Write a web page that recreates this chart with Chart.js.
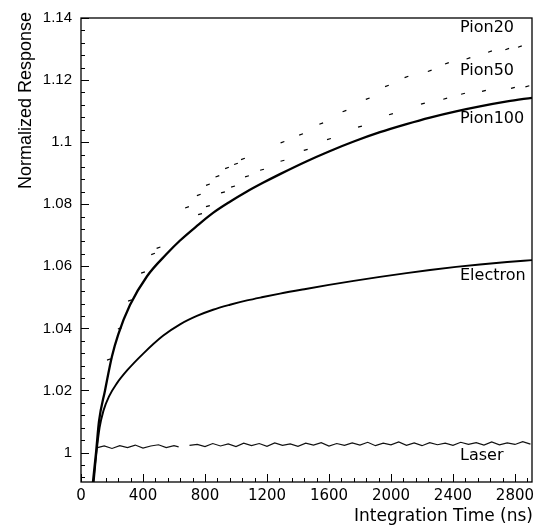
<!DOCTYPE html>
<html>
<head>
<meta charset="utf-8">
<script src="https://cdn.jsdelivr.net/npm/chart.js@4/dist/chart.umd.min.js"></script>
<style>
  html, body { margin: 0; padding: 0; background: #fff; }
  #wrap { width: 542px; height: 527px; }
</style>
</head>
<body>
<div id="wrap"><canvas id="responseChart" width="542" height="527"></canvas></div>
<script>
// axis ticks
const xTicks = [0, 400, 800, 1200, 1600, 2000, 2400, 2800];
const yTicks = [1, 1.02, 1.04, 1.06, 1.08, 1.1, 1.12, 1.14];
const yTickLabels = ['1', '1.02', '1.04', '1.06', '1.08', '1.1', '1.12', '1.14'];

// Pion100 (solid)
const pion100T = [77, 97, 116, 155, 200, 240, 316, 426, 555, 639, 748, 852, 961, 1071, 1174, 1284, 1450, 1600, 1760, 1929, 2100, 2252, 2420, 2574, 2750, 2910];
const pion100V = [0.9905, 1.000, 1.010, 1.020, 1.031, 1.038, 1.0475, 1.0568, 1.0641, 1.0683, 1.073, 1.0772, 1.0808, 1.0841, 1.0869, 1.0897, 1.0937, 1.0970, 1.1002, 1.1032, 1.1058, 1.1079, 1.1099, 1.1115, 1.1131, 1.1143];

// Electron (solid)
const electronT = [82, 100, 120, 145, 180, 230, 300, 400, 529, 639, 748, 852, 961, 1071, 1174, 1284, 1450, 1600, 1760, 1929, 2100, 2252, 2420, 2574, 2750, 2910];
const electronV = [0.9905, 1.000, 1.008, 1.0135, 1.018, 1.0222, 1.0266, 1.0318, 1.0376, 1.0413, 1.044, 1.046, 1.0476, 1.0490, 1.0501, 1.0512, 1.0527, 1.0540, 1.0553, 1.0566, 1.0578, 1.0588, 1.0598, 1.0606, 1.0614, 1.062];

// Pion20 (scattered dashes)
const pion20T = [180, 250, 316, 400, 465, 500, 684, 760, 819, 880, 942, 1000, 1045, 1300, 1420, 1550, 1700, 1850, 1974, 2100, 2250, 2361, 2500, 2639, 2750, 2832];
const pion20V = [1.030, 1.040, 1.049, 1.058, 1.064, 1.066, 1.079, 1.083, 1.0863, 1.089, 1.0917, 1.093, 1.0946, 1.100, 1.1025, 1.106, 1.110, 1.114, 1.1181, 1.121, 1.123, 1.1254, 1.127, 1.1292, 1.130, 1.1308];

// Pion50 (scattered dashes)
const pion50T = [768, 819, 916, 981, 1071, 1168, 1300, 1450, 1600, 1800, 2000, 2206, 2350, 2465, 2600, 2787, 2880];
const pion50V = [1.0768, 1.0794, 1.0838, 1.0857, 1.089, 1.0911, 1.094, 1.0975, 1.101, 1.105, 1.109, 1.1124, 1.114, 1.1156, 1.1165, 1.1175, 1.118];

// Laser (noisy, short gap near 650-700 ns)
const laserT = [100, 150, 200, 250, 300, 350, 400, 450, 500, 550, 600, 630, 665, 700,
  750, 800, 850, 900, 950, 1000, 1050, 1100, 1150, 1200, 1250, 1300, 1350, 1400, 1450, 1500, 1550, 1600, 1650, 1700,
  1750, 1800, 1850, 1900, 1950, 2000, 2050, 2100, 2150, 2200, 2250, 2300, 2350, 2400, 2450, 2500, 2550, 2600, 2650, 2700,
  2750, 2800, 2850, 2900];
const laserV = [1.0015, 1.0021, 1.0013, 1.0022, 1.0016, 1.0024, 1.0014, 1.0021, 1.0025, 1.0016, 1.0022, 1.0018, null, 1.0023,
  1.0026, 1.0019, 1.0029, 1.0021, 1.0028, 1.0019, 1.0030, 1.0022, 1.0029, 1.0020,
  1.0031, 1.0023, 1.0028, 1.0020, 1.0030, 1.0024, 1.0032, 1.0021, 1.0029, 1.0023,
  1.0031, 1.0024, 1.0033, 1.0022, 1.0030, 1.0025, 1.0034, 1.0023, 1.0031, 1.0022,
  1.0032, 1.0025, 1.0030, 1.0023, 1.0033, 1.0026, 1.0032, 1.0024, 1.0034, 1.0025,
  1.0031, 1.0026, 1.0035, 1.0027];

const seriesNames = ['Pion20', 'Pion50', 'Pion100', 'Electron', 'Laser'];

const zip = (t, v) => t.map((x, i) => ({ x, y: v[i] }));

// frame, inward ticks, curve labels and axis titles
const framePlugin = {
  id: 'frame',
  beforeDraw(chart) {
    const c = chart.ctx;
    c.save();
    c.fillStyle = '#fff';
    c.fillRect(0, 0, chart.width, chart.height);
    c.restore();
  },
  afterDraw(chart) {
    const c = chart.ctx;
    const a = chart.chartArea;
    const xs = chart.scales.x, ys = chart.scales.y;
    c.save();
    c.strokeStyle = '#000';
    c.lineWidth = 1.3;
    c.strokeRect(a.left, a.top, a.right - a.left, a.bottom - a.top);

    c.lineWidth = 1;
    c.beginPath();
    for (let t = 0; t <= xs.max; t += 80) {
      const px = Math.round(xs.getPixelForValue(t)) + 0.5;
      const len = t % 400 === 0 ? 8 : 4;
      c.moveTo(px, a.bottom);
      c.lineTo(px, a.bottom - len);
    }
    for (let k = 0; k <= 37; k++) {
      const v = 0.992 + k * 0.004;
      if (v > ys.max + 1e-9) break;
      const py = Math.round(ys.getPixelForValue(v)) + 0.5;
      const major = Math.abs((v - 1) / 0.02 - Math.round((v - 1) / 0.02)) < 1e-6;
      c.moveTo(a.left, py);
      c.lineTo(a.left + (major ? 8 : 4), py);
    }
    c.stroke();

    // curve labels
    c.fillStyle = '#000';
    c.font = '16px "DejaVu Sans"';
    c.textAlign = 'left';
    c.textBaseline = 'alphabetic';
    const labelY = [32, 75, 123, 280, 460];
    seriesNames.forEach((n, i) => c.fillText(n, 460, labelY[i]));

    // x title
    c.font = '17px "DejaVu Sans"';
    c.textAlign = 'right';
    c.fillText('Integration Time (ns)', 533, 521);

    // y title
    c.font = '18px "Liberation Sans"';
    c.translate(31, 12);
    c.rotate(-Math.PI / 2);
    c.textAlign = 'right';
    c.fillText('Normalized Response', 0, 0);
    c.restore();
  }
};

new Chart(document.getElementById('responseChart'), {
  type: 'scatter',
  data: {
    datasets: [
      {
        label: 'Pion20',
        data: zip(pion20T, pion20V),
        showLine: false,
        pointStyle: 'line',
        pointRadius: 2,
        rotation: -20,
        borderColor: '#000',
        borderWidth: 1.2
      },
      {
        label: 'Pion50',
        data: zip(pion50T, pion50V),
        showLine: false,
        pointStyle: 'line',
        pointRadius: 2,
        rotation: -15,
        borderColor: '#000',
        borderWidth: 1.2
      },
      {
        label: 'Pion100',
        data: zip(pion100T, pion100V),
        showLine: true,
        pointRadius: 0,
        borderColor: '#000',
        borderWidth: 2.3,
        cubicInterpolationMode: 'monotone'
      },
      {
        label: 'Electron',
        data: zip(electronT, electronV),
        showLine: true,
        pointRadius: 0,
        borderColor: '#000',
        borderWidth: 1.9,
        cubicInterpolationMode: 'monotone'
      },
      {
        label: 'Laser',
        data: zip(laserT, laserV),
        showLine: true,
        spanGaps: false,
        pointRadius: 0,
        borderColor: '#111',
        borderWidth: 1.2
      }
    ]
  },
  options: {
    responsive: false,
    animation: false,
    layout: { padding: { left: 0, top: 11, right: 10, bottom: 0 } },
    plugins: {
      legend: { display: false },
      tooltip: { enabled: false }
    },
    scales: {
      x: {
        type: 'linear',
        min: 0,
        max: 2910,
        afterBuildTicks: s => { s.ticks = xTicks.map(v => ({ value: v })); },
        afterFit: s => { s.height = 45; },
        grid: { display: false, drawTicks: false },
        border: { display: false },
        ticks: {
          padding: 5,
          color: '#000',
          maxRotation: 0,
          autoSkip: false,
          font: { family: 'DejaVu Sans', size: 15 },
          callback: v => String(v)
        }
      },
      y: {
        type: 'linear',
        min: 0.9905,
        max: 1.14,
        afterBuildTicks: s => { s.ticks = yTicks.map(v => ({ value: v })); },
        afterFit: s => { s.width = 81; },
        grid: { display: false, drawTicks: false },
        border: { display: false },
        ticks: {
          padding: 9,
          color: '#000',
          autoSkip: false,
          font: { family: 'Liberation Sans', size: 15 },
          callback: v => {
            const i = yTicks.findIndex(t => Math.abs(t - v) < 1e-9);
            return i >= 0 ? yTickLabels[i] : '';
          }
        }
      }
    }
  },
  plugins: [framePlugin]
});
</script>
</body>
</html>
